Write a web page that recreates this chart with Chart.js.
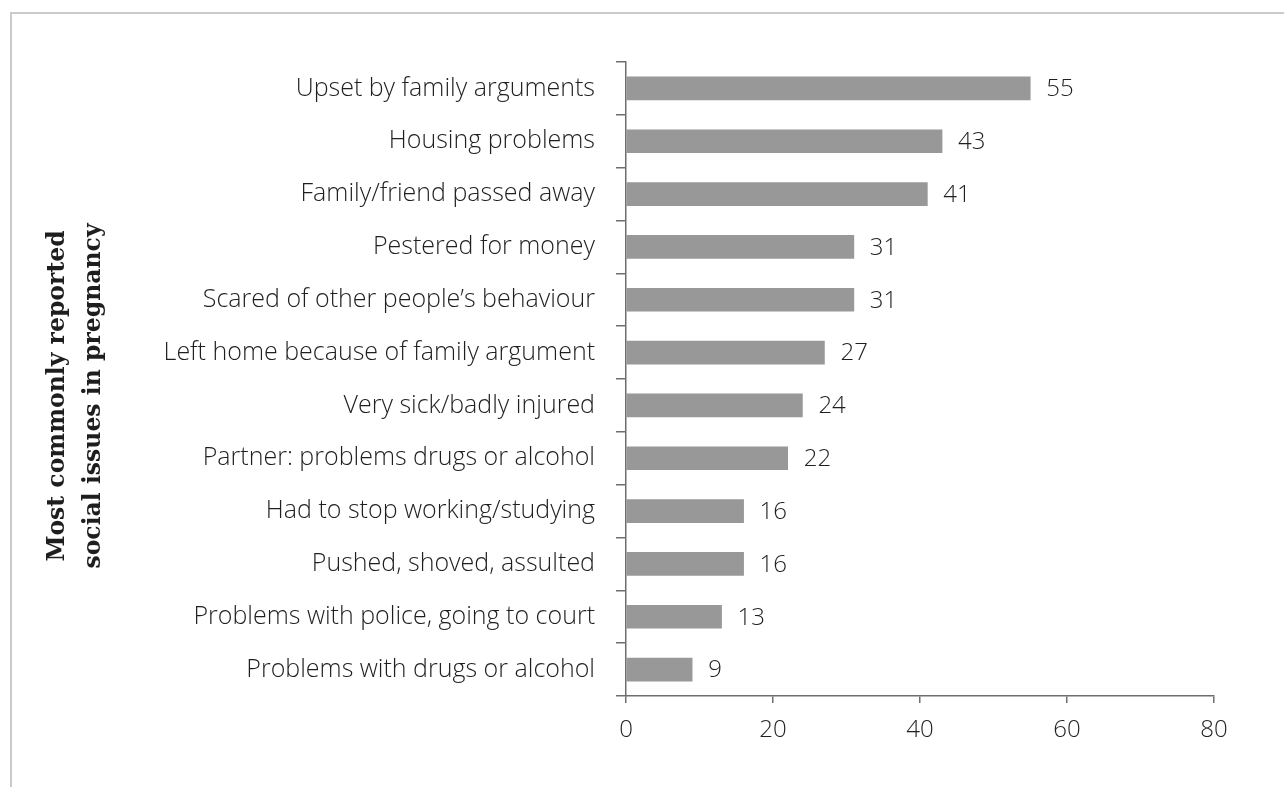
<!DOCTYPE html>
<html>
<head>
<meta charset="utf-8">
<title>Most commonly reported social issues in pregnancy</title>
<script src="https://cdn.jsdelivr.net/npm/chart.js@4/dist/chart.umd.min.js"></script>
<style>
	html, body { margin: 0; padding: 0; background: #fff; }
	body { width: 1284px; height: 787px; overflow: hidden; position: relative; }
	.frame {
		position: absolute; left: 10px; top: 12px; width: 1400px; height: 900px;
		border-top: 2px solid #cacaca; border-left: 2px solid #cacaca;
	}
	#issuesChart { position: absolute; left: 0; top: 0; }
</style>
</head>
<body>
<div class="frame"></div>
<canvas id="issuesChart" width="1284" height="787"></canvas>
<script>
// Data -----------------------------------------------------------------------

const categories = [
	'Upset by family arguments',
	'Housing problems',
	'Family/friend passed away',
	'Pestered for money',
	'Scared of other people\u2019s behaviour',
	'Left home because of family argument',
	'Very sick/badly injured',
	'Partner: problems drugs or alcohol',
	'Had to stop working/studying',
	'Pushed, shoved, assulted',
	'Problems with police, going to court',
	'Problems with drugs or alcohol'
];

const counts = [55, 43, 41, 31, 31, 27, 24, 22, 16, 16, 13, 9];

const xTickValues = [0, 20, 40, 60, 80];

const axisTitleLines = ['Most commonly reported', 'social issues in pregnancy'];

// Configuration constants
const CONFIG = {
	COLORS: {
		bar: '#989898',
		axis: '#6e6e6e',
		text: '#1f1f1f',
		title: '#1e1e1e'
	},
	FONT: {
		family: "'Open Sans', 'Lato', sans-serif",
		labelSize: 25,
		numberSize: 24,
		weight: 300
	},
	TITLE_FONT: "bold 23.5px 'DejaVu Serif', serif",
	// plot box edges in canvas pixels
	AREA: { left: 626, top: 62, right: 1214, bottom: 696 },
	BAR_THICKNESS: 23,
	VALUE_GAP: 16
};

// Plugins --------------------------------------------------------------------

/**
 * Writes each bar's count just past its end
 */
const valueLabels = {
	id: 'valueLabels',
	afterDatasetsDraw(chart) {
		const ctx = chart.ctx;
		const meta = chart.getDatasetMeta(0);
		const data = chart.data.datasets[0].data;
		ctx.save();
		ctx.font = `${CONFIG.FONT.weight} ${CONFIG.FONT.numberSize}px ${CONFIG.FONT.family}`;
		ctx.fillStyle = CONFIG.COLORS.text;
		ctx.textAlign = 'left';
		ctx.textBaseline = 'middle';
		meta.data.forEach((bar, i) => {
			ctx.fillText(String(data[i]), bar.x + CONFIG.VALUE_GAP, bar.y + 1);
		});
		ctx.restore();
	}
};

/**
 * Two-line rotated serif title beside the category labels
 */
const sideTitle = {
	id: 'sideTitle',
	afterDraw(chart) {
		const ctx = chart.ctx;
		const baselines = [64, 100];
		const centerY = 396;
		ctx.save();
		ctx.font = CONFIG.TITLE_FONT;
		ctx.fillStyle = CONFIG.COLORS.title;
		ctx.textAlign = 'center';
		ctx.textBaseline = 'alphabetic';
		axisTitleLines.forEach((line, i) => {
			ctx.save();
			ctx.translate(baselines[i], centerY);
			ctx.rotate(-Math.PI / 2);
			ctx.fillText(line, 0, 0);
			ctx.restore();
		});
		ctx.restore();
	}
};

// Chart ----------------------------------------------------------------------

function createChartConfig() {
	const font = (size) => ({
		family: CONFIG.FONT.family,
		size,
		weight: CONFIG.FONT.weight
	});
	const canvasW = 1284;
	const canvasH = 787;

	return {
		type: 'bar',
		data: {
			labels: categories,
			datasets: [{
				data: counts,
				backgroundColor: CONFIG.COLORS.bar,
				borderWidth: 0,
				barThickness: CONFIG.BAR_THICKNESS
			}]
		},
		options: {
			indexAxis: 'y',
			responsive: false,
			animation: false,
			devicePixelRatio: 1,
			layout: {
				padding: {
					top: CONFIG.AREA.top,
					right: canvasW - CONFIG.AREA.right,
					bottom: 0,
					left: 0
				}
			},
			plugins: {
				legend: { display: false },
				tooltip: { enabled: false },
				title: { display: false }
			},
			scales: {
				x: {
					type: 'linear',
					min: xTickValues[0],
					max: xTickValues[xTickValues.length - 1],
					afterBuildTicks: (scale) => {
						scale.ticks = xTickValues.map(v => ({ value: v }));
					},
					afterFit: (scale) => {
						scale.height = canvasH - CONFIG.AREA.bottom;
					},
					border: { color: CONFIG.COLORS.axis, width: 1.5 },
					grid: {
						drawOnChartArea: false,
						tickLength: 7,
						color: CONFIG.COLORS.axis,
						lineWidth: 1.5
					},
					ticks: {
						color: CONFIG.COLORS.text,
						font: font(CONFIG.FONT.numberSize),
						padding: 13,
						maxRotation: 0
					}
				},
				y: {
					type: 'category',
					afterFit: (scale) => {
						scale.width = CONFIG.AREA.left;
					},
					border: { color: CONFIG.COLORS.axis, width: 1.5 },
					grid: {
						offset: true,
						drawOnChartArea: false,
						tickLength: 10,
						color: CONFIG.COLORS.axis,
						lineWidth: 1.5
					},
					ticks: {
						color: CONFIG.COLORS.text,
						font: font(CONFIG.FONT.labelSize),
						padding: 21,
						autoSkip: false
					}
				}
			}
		},
		plugins: [valueLabels, sideTitle]
	};
}

const ctx = document.getElementById('issuesChart').getContext('2d');
new Chart(ctx, createChartConfig());
</script>
</body>
</html>
